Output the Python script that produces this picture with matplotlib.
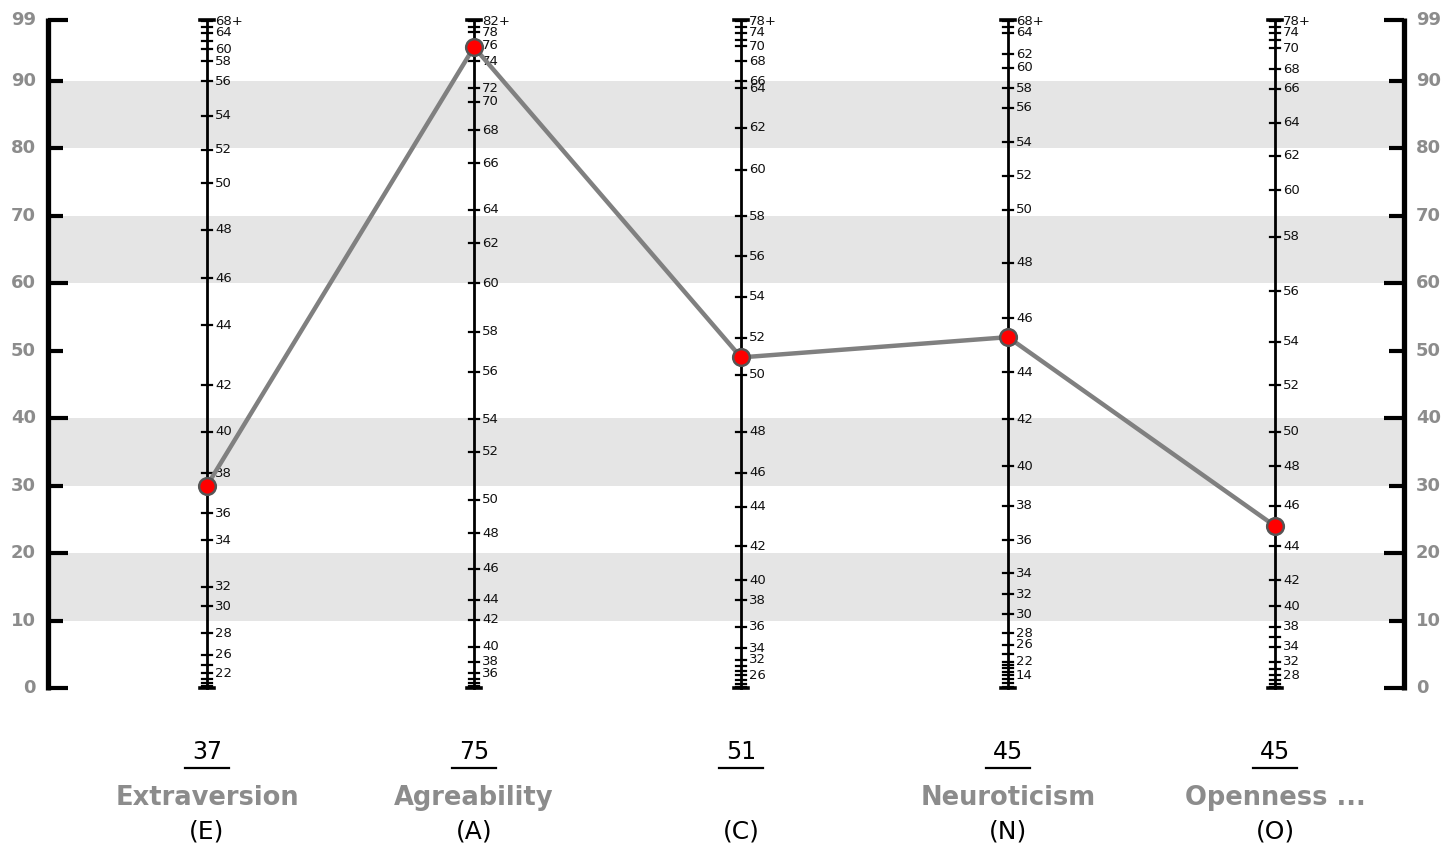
import matplotlib
matplotlib.use("Agg")
import matplotlib.pyplot as plt

# ---------------- data ----------------
traits = ["Extraversion", "Agreability", "", "Neuroticism", "Openness ..."]
codes = ["(E)", "(A)", "(C)", "(N)", "(O)"]
scores = [37, 75, 51, 45, 45]
percentiles = [30, 95, 49, 52, 24]

# raw-score ticks (score -> percentile position) for each trait axis
e_ticks = [68, 66, 64, 62, 60, 58, 56, 54, 52, 50, 48, 46, 44, 42, 40, 38, 36, 34, 32, 30, 28, 26, 24, 22, 20, 18, 16]
e_pct = [98.8, 98.0, 97.1, 95.9, 94.7, 92.9, 89.9, 84.8, 79.8, 74.8, 67.9, 60.7, 53.8, 44.9, 38.0, 31.8, 25.9, 21.9, 15.0, 12.1, 8.1, 4.9, 3.4, 2.2, 1.4, 0.8, 0.3]
e_shown = [68, 64, 60, 58, 56, 54, 52, 50, 48, 46, 44, 42, 40, 38, 36, 34, 32, 30, 28, 26, 22]

a_ticks = [82, 80, 78, 76, 74, 72, 70, 68, 66, 64, 62, 60, 58, 56, 54, 52, 50, 48, 46, 44, 42, 40, 38, 36, 34, 32, 30]
a_pct = [98.8, 98.0, 97.2, 95.3, 92.9, 88.9, 86.9, 82.7, 77.8, 70.9, 65.9, 60.0, 52.8, 46.9, 39.8, 35.0, 27.9, 22.9, 17.7, 13.1, 10.1, 6.1, 3.9, 2.2, 1.4, 0.8, 0.3]
a_shown = [82, 78, 76, 74, 72, 70, 68, 66, 64, 62, 60, 58, 56, 54, 52, 50, 48, 46, 44, 42, 40, 38, 36]

c_ticks = [78, 76, 74, 72, 70, 68, 66, 64, 62, 60, 58, 56, 54, 52, 50, 48, 46, 44, 42, 40, 38, 36, 34, 32, 30, 28, 26, 24, 22, 20]
c_pct = [98.8, 97.9, 97.1, 96.1, 95.1, 92.9, 89.9, 88.9, 83.0, 76.8, 69.9, 64.0, 58.0, 51.9, 46.4, 38.0, 31.9, 26.9, 21.0, 16.0, 13.0, 9.1, 5.9, 4.2, 3.2, 2.5, 1.9, 1.2, 0.6, 0.2]
c_shown = [78, 74, 70, 68, 66, 64, 62, 60, 58, 56, 54, 52, 50, 48, 46, 44, 42, 40, 38, 36, 34, 32, 26]

n_ticks = [68, 66, 64, 62, 60, 58, 56, 54, 52, 50, 48, 46, 44, 42, 40, 38, 36, 34, 32, 30, 28, 26, 24, 22, 20, 18, 16, 14, 12, 10, 8]
n_pct = [98.8, 98.0, 97.1, 93.9, 91.9, 88.9, 86.0, 80.9, 75.9, 70.9, 63.0, 54.8, 46.8, 39.8, 32.9, 27.0, 21.9, 17.0, 13.9, 10.9, 8.1, 6.4, 5.1, 3.9, 3.4, 2.9, 2.4, 1.9, 1.3, 0.7, 0.2]
n_shown = [68, 64, 62, 60, 58, 56, 54, 52, 50, 48, 46, 44, 42, 40, 38, 36, 34, 32, 30, 28, 26, 22, 14]

o_ticks = [78, 76, 74, 72, 70, 68, 66, 64, 62, 60, 58, 56, 54, 52, 50, 48, 46, 44, 42, 40, 38, 36, 34, 32, 30, 28, 26, 24, 22]
o_pct = [98.8, 98.0, 97.1, 96.0, 94.8, 91.7, 88.8, 83.8, 78.9, 73.8, 66.9, 58.8, 51.3, 44.9, 38.0, 32.9, 27.0, 21.0, 16.0, 12.1, 9.1, 7.5, 6.1, 3.9, 2.8, 1.9, 1.2, 0.6, 0.2]
o_shown = [78, 74, 70, 68, 66, 64, 62, 60, 58, 56, 54, 52, 50, 48, 46, 44, 42, 40, 38, 34, 32, 28]

# percentile scale on the outer axes
pct_ticks = [0, 10, 20, 30, 40, 50, 60, 70, 80, 90, 99]
pct_long = [0, 20, 40, 60, 99]
bands = [(10, 20), (30, 40), (60, 70), (80, 90)]

axes_ticks = [e_ticks, a_ticks, c_ticks, n_ticks, o_ticks]
axes_pct = [e_pct, a_pct, c_pct, n_pct, o_pct]
axes_shown = [e_shown, a_shown, c_shown, n_shown, o_shown]

# ---------------- layout ----------------
W, H = 1447, 852
fig = plt.figure(figsize=(W / 100, H / 100), dpi=100)
ax = fig.add_axes([0, 0, 1, 1])
ax.set_axis_off()

PX_X = 267.0          # px per category step
X0_PX = 207.0         # pixel x of first category
Y0_PX = 688.0         # pixel y (from top) of percentile 0
PX_Y = 6.747          # px per percentile unit

ax.set_xlim(-X0_PX / PX_X, (W - X0_PX) / PX_X)
ax.set_ylim(-(H - Y0_PX) / PX_Y, Y0_PX / PX_Y)

def dx(px):
    return px / PX_X

def dy(px):
    return px / PX_Y

x_left = dx(48 - X0_PX)
x_right = dx(1404 - X0_PX)

# background bands
for lo, hi in bands:
    ax.fill_between([x_left, x_right], lo, hi, color="#e5e5e5", lw=0, zorder=0)

grey = "#8c8c8c"

# outer percentile axes
for side, xa in (("L", x_left), ("R", x_right)):
    ax.plot([xa, xa], [0 - dy(2), 99 + dy(2)], color="black", lw=3.8, solid_capstyle="butt", zorder=2)
    for t in pct_ticks:
        L = 20 if t in pct_long else 15
        if side == "L":
            ax.plot([xa, xa + dx(L)], [t, t], color="black", lw=3.0, solid_capstyle="butt", zorder=2)
            ax.text(xa - dx(12), t, str(t), ha="right", va="center", fontsize=13,
                    fontweight="bold", color=grey)
        else:
            ax.plot([xa - dx(L), xa], [t, t], color="black", lw=3.0, solid_capstyle="butt", zorder=2)
            ax.text(xa + dx(12), t, str(t), ha="left", va="center", fontsize=13,
                    fontweight="bold", color=grey)

# trait axes
for i in range(len(traits)):
    ax.plot([i, i], [0, 99], color="black", lw=2.0, zorder=3)
    for cap in (0, 99):
        ax.plot([i - dx(7), i + dx(7)], [cap, cap], color="black", lw=2.6, zorder=3)
    top = max(axes_ticks[i])
    for s, p in zip(axes_ticks[i], axes_pct[i]):
        ax.plot([i - dx(5), i + dx(5)], [p, p], color="black", lw=1.6, zorder=3)
        if s in axes_shown[i]:
            lab = f"{s}+" if s == top else str(s)
            ax.text(i + dx(8), p, lab, ha="left", va="center", fontsize=9.5, color="#111111", zorder=3)

# profile line + markers
xs = list(range(len(traits)))
ax.plot(xs, percentiles, color="#808080", lw=3.2, zorder=4, solid_capstyle="round")
ax.plot(xs, percentiles, ls="none", marker="o", ms=12, mfc="#ff0000", mec="#555555", mew=1.8, zorder=5)

# bottom labels
for i in range(len(traits)):
    ax.text(i, -dy(752 - Y0_PX), str(scores[i]), ha="center", va="center", fontsize=17, color="black")
    ax.plot([i - dx(22), i + dx(22)], [-dy(768 - Y0_PX)] * 2, color="black", lw=1.6)
    ax.text(i, -dy(798 - Y0_PX), traits[i], ha="center", va="center", fontsize=18.5,
            fontweight="bold", color=grey)
    ax.text(i, -dy(832 - Y0_PX), codes[i], ha="center", va="center", fontsize=18, color="black")

fig.savefig("out.png", dpi=100)
